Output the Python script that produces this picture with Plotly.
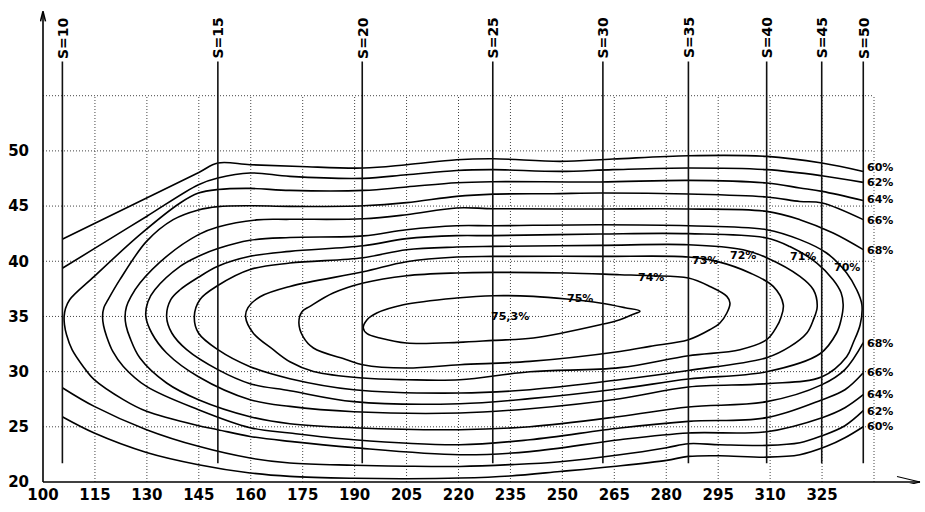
import plotly.graph_objects as go

# ---------------- data ----------------
x_tick_values = [100, 115, 130, 145, 160, 175, 190, 205, 220, 235, 250, 265, 280, 295, 310, 325]
y_tick_values = [20, 25, 30, 35, 40, 45, 50]

opening_labels = ["S=10", "S=15", "S=20", "S=25", "S=30", "S=35", "S=40", "S=45", "S=50"]
opening_q = [105.6, 150.5, 192.2, 229.9, 261.7, 286.4, 309.0, 324.9, 336.9]
opening_n_range = [21.7, 58.1]

eta60_top_q = [105.7, 128.0, 145.0, 150.5, 159.8, 174.2, 192.5, 205.0, 219.5, 230.1, 249.3, 264.6, 286.4, 309.0, 324.9, 336.9]
eta60_top_n = [42.02, 45.44, 48.05, 48.90, 48.75, 48.59, 48.45, 48.75, 49.20, 49.29, 49.05, 49.26, 49.56, 49.50, 48.90, 48.14]

eta62_top_q = [105.7, 114.8, 129.9, 144.9, 150.5, 159.8, 171.3, 192.5, 205.0, 219.5, 230.1, 249.3, 264.6, 286.4, 309.0, 324.9, 336.9]
eta62_top_n = [39.39, 41.14, 44.06, 46.94, 47.54, 48.00, 47.69, 47.51, 47.84, 48.23, 48.30, 48.14, 48.30, 48.45, 48.30, 47.75, 47.15]

eta60_bot_q = [105.7, 114.8, 129.9, 144.9, 159.8, 171.3, 189.8, 205.0, 220.4, 234.9, 249.3, 264.7, 280.1, 286.4, 295.5, 309.0, 318.6, 326.3, 331.6, 336.9]
eta60_bot_n = [25.89, 24.44, 22.68, 21.57, 20.82, 20.51, 20.34, 20.30, 20.36, 20.55, 20.95, 21.41, 21.96, 22.32, 22.38, 22.25, 22.47, 23.23, 24.01, 25.01]

eta62_bot_q = [105.7, 114.8, 129.9, 144.9, 159.8, 171.3, 189.8, 205.0, 220.4, 234.9, 249.3, 266.6, 280.1, 286.4, 295.5, 309.0, 318.6, 325.0, 331.6, 336.9]
eta62_bot_n = [28.52, 26.85, 24.74, 23.23, 22.17, 21.72, 21.52, 21.43, 21.41, 21.57, 21.84, 22.47, 23.11, 23.47, 23.38, 23.32, 23.56, 24.19, 25.10, 26.46]

eta64_q = [336.9, 325.0, 318.6, 309.0, 286.4, 260.9, 230.1, 219.5, 205.0, 192.5, 171.3, 159.8, 150.5, 144.9, 139.6, 128.0, 114.8, 107.7, 106.5, 106.1, 106.2, 106.8, 108.4, 111.6, 114.8, 123.2, 129.9, 144.9, 150.5, 159.8, 171.3, 189.8, 220.4, 240.6, 266.6, 286.4, 309.0, 325.0, 331.6, 336.9]
eta64_n = [45.51, 46.33, 46.64, 47.09, 47.33, 47.18, 47.21, 47.12, 46.73, 46.42, 46.42, 46.60, 46.50, 46.18, 45.28, 42.41, 38.63, 36.52, 35.71, 34.98, 34.26, 33.34, 31.99, 30.47, 29.27, 27.46, 26.40, 25.10, 24.74, 24.13, 23.68, 23.11, 22.47, 22.75, 23.83, 24.44, 24.56, 25.83, 26.73, 27.91]

eta66_q = [336.9, 325.0, 318.6, 309.0, 286.4, 260.9, 247.3, 230.1, 219.5, 205.0, 192.5, 171.3, 159.8, 150.5, 144.9, 137.6, 129.9, 122.2, 118.8, 117.6, 117.2, 117.5, 118.4, 120.2, 123.2, 129.9, 144.9, 159.8, 171.3, 189.8, 220.4, 240.6, 266.6, 286.4, 309.0, 325.0, 331.6, 336.9]
eta66_n = [43.77, 45.28, 45.42, 45.82, 46.09, 46.18, 46.12, 46.08, 45.88, 45.31, 45.03, 44.97, 45.03, 44.95, 44.65, 43.77, 41.80, 38.33, 36.52, 35.80, 34.98, 34.16, 33.17, 31.81, 30.47, 28.66, 26.55, 24.92, 24.44, 23.83, 23.38, 23.83, 24.89, 25.49, 25.83, 27.46, 28.36, 29.90]

eta68_q = [336.9, 328.2, 318.6, 309.0, 286.4, 260.9, 230.1, 219.5, 205.0, 192.5, 171.3, 161.7, 150.5, 144.9, 135.7, 128.0, 125.4, 124.1, 123.7, 124.0, 125.1, 128.0, 135.7, 144.9, 159.8, 171.3, 189.8, 220.4, 240.6, 266.6, 286.4, 309.0, 325.0, 331.6, 336.9]
eta68_n = [41.05, 42.56, 43.77, 44.52, 44.74, 44.74, 44.76, 44.83, 44.22, 43.85, 43.80, 43.75, 43.10, 42.41, 40.44, 38.03, 36.79, 35.88, 34.98, 34.16, 33.08, 31.23, 28.97, 27.46, 25.92, 25.28, 24.92, 24.74, 25.01, 25.94, 26.80, 27.28, 28.82, 30.18, 32.62]

eta70_q = [230.1, 260.9, 286.4, 309.0, 318.6, 326.3, 332.1, 335.0, 336.5, 336.0, 334.0, 332.1, 325.0, 309.0, 286.4, 266.6, 240.6, 220.4, 189.8, 171.3, 159.8, 144.9, 135.7, 131.4, 129.7, 130.3, 132.3, 139.6, 144.9, 150.5, 159.8, 171.3, 192.5, 205.0, 219.5, 230.1]
eta70_n = [43.22, 43.31, 43.22, 42.86, 41.96, 40.75, 38.94, 37.42, 36.06, 34.25, 32.62, 31.35, 29.54, 28.91, 28.61, 27.55, 26.64, 26.25, 26.37, 26.85, 27.46, 29.54, 31.69, 33.50, 35.00, 36.34, 37.42, 39.53, 40.45, 41.15, 41.90, 42.15, 42.30, 42.86, 43.22, 43.22]

eta71_q = [230.1, 260.9, 286.4, 309.0, 315.7, 323.5, 328.2, 330.5, 331.1, 330.5, 329.2, 324.4, 309.0, 286.4, 266.6, 240.6, 220.4, 189.8, 171.3, 159.8, 150.5, 141.5, 137.2, 135.7, 136.9, 139.6, 144.9, 150.5, 159.8, 171.3, 192.5, 205.0, 219.5, 230.1]
eta71_n = [42.32, 42.47, 42.50, 42.11, 41.33, 39.84, 38.33, 37.15, 36.06, 34.71, 33.50, 31.62, 29.99, 29.33, 28.45, 27.55, 27.09, 27.28, 28.27, 28.91, 30.18, 31.99, 33.50, 35.00, 36.52, 37.42, 38.55, 39.55, 40.45, 40.90, 41.40, 42.05, 42.32, 42.32]

eta72_q = [230.1, 260.9, 286.4, 302.2, 309.0, 318.6, 322.5, 323.6, 322.5, 320.6, 315.7, 309.0, 286.4, 266.6, 240.6, 220.4, 189.8, 171.3, 159.8, 150.5, 144.9, 143.7, 145.3, 150.5, 159.8, 171.3, 192.5, 205.0, 219.5, 230.1]
eta72_n = [41.35, 41.44, 41.50, 41.05, 40.32, 38.63, 37.42, 35.91, 34.71, 33.50, 32.26, 31.26, 30.11, 29.27, 28.36, 28.06, 28.36, 29.36, 30.45, 31.99, 33.50, 35.00, 36.52, 37.80, 39.25, 39.84, 40.32, 41.05, 41.29, 41.35]

eta73_q = [230.1, 260.9, 286.4, 294.6, 304.2, 310.9, 313.8, 313.1, 311.9, 309.0, 301.3, 286.4, 266.6, 240.6, 220.4, 205.0, 192.4, 178.1, 171.3, 166.5, 160.7, 158.5, 159.2, 162.7, 171.3, 192.5, 205.0, 219.5, 230.1]
eta73_n = [40.44, 40.44, 40.39, 39.99, 38.94, 37.72, 36.06, 34.89, 34.07, 32.89, 31.99, 31.44, 30.36, 29.99, 29.27, 29.27, 29.42, 30.02, 30.90, 31.99, 33.50, 34.98, 35.80, 36.79, 37.72, 39.05, 39.96, 40.39, 40.44]

eta74_q = [230.1, 251.2, 266.6, 275.3, 286.4, 292.6, 297.5, 298.4, 297.5, 295.5, 292.6, 286.4, 275.3, 266.6, 240.6, 220.4, 205.0, 192.3, 187.7, 178.1, 175.1, 173.9, 174.8, 177.1, 183.8, 192.5, 205.0, 219.5, 230.1]
eta74_n = [38.99, 38.94, 38.78, 38.69, 38.48, 37.72, 36.82, 36.22, 35.31, 34.41, 33.80, 32.89, 32.29, 31.83, 30.93, 30.63, 30.33, 30.63, 31.08, 32.14, 33.17, 34.43, 35.43, 35.91, 37.12, 38.03, 38.69, 38.94, 38.99]

eta75_q = [230.1, 241.6, 251.2, 260.9, 268.1, 272.4, 270.1, 266.6, 260.9, 241.6, 230.1, 219.9, 205.0, 197.3, 193.6, 192.5, 193.6, 196.4, 204.1, 219.5, 230.1]
eta75_n = [36.88, 36.82, 36.58, 36.22, 35.79, 35.48, 35.16, 34.71, 34.25, 33.05, 32.83, 32.65, 32.59, 33.05, 33.44, 33.95, 34.71, 35.31, 36.06, 36.67, 36.88]

label_text = ["60%", "62%", "64%", "66%", "68%", "70%", "71%", "72%", "73%", "74%", "75%", "75,3%",
              "68%", "66%", "64%", "62%", "60%"]
label_q = [341.7, 341.7, 341.7, 341.7, 341.7, 332.1, 319.6, 302.3, 291.3, 275.6, 255.1, 234.9,
           341.7, 341.7, 341.7, 341.7, 341.7]
label_n = [48.52, 47.16, 45.60, 43.69, 40.97, 39.42, 40.44, 40.50, 40.10, 38.57, 36.67, 35.02,
           32.59, 29.88, 27.91, 26.40, 25.04]

# ---------------- figure ----------------
PX_X = 3.4625   # pixels per unit of Q'1
PX_Y = 11.037   # pixels per unit of n'1
X0, Y0 = 100, 20
X_TIP = X0 + 877 / PX_X
Y_TIP = Y0 + 470.6 / PX_Y

FONT = "DejaVu Sans"
fig = go.Figure()

curves = [
    (eta60_top_q, eta60_top_n), (eta62_top_q, eta62_top_n),
    (eta60_bot_q, eta60_bot_n), (eta62_bot_q, eta62_bot_n),
    (eta64_q, eta64_n), (eta66_q, eta66_n), (eta68_q, eta68_n),
    (eta70_q, eta70_n), (eta71_q, eta71_n), (eta72_q, eta72_n),
    (eta73_q, eta73_n), (eta74_q, eta74_n), (eta75_q, eta75_n),
]
for q, n in curves:
    fig.add_trace(go.Scatter(x=q, y=n, mode="lines",
                             line=dict(color="black", width=1.6, shape="spline", smoothing=1.0),
                             hoverinfo="skip"))

for s_q in opening_q:
    fig.add_trace(go.Scatter(x=[s_q, s_q], y=opening_n_range, mode="lines",
                             line=dict(color="#111", width=1.6), hoverinfo="skip"))

shapes = []
grid = dict(color="#444", width=1, dash="1px,2px")
for gx in list(range(115, 341, 15)):
    shapes.append(dict(type="line", xref="x", yref="y", x0=gx, x1=gx, y0=20, y1=55, line=grid, layer="below"))
for gy in range(25, 56, 5):
    shapes.append(dict(type="line", xref="x", yref="y", x0=100, x1=340, y0=gy, y1=gy, line=grid, layer="below"))

axis_line = dict(color="black", width=1.6)
shapes += [
    dict(type="line", xref="x", yref="y", x0=X0, x1=X0, y0=Y0, y1=Y_TIP, line=axis_line),
    dict(type="line", xref="x", yref="y", x0=X0 - 2.5 / PX_X, x1=X0, y0=Y_TIP - 10 / PX_Y, y1=Y_TIP, line=axis_line),
    dict(type="line", xref="x", yref="y", x0=X0 + 2.5 / PX_X, x1=X0, y0=Y_TIP - 10 / PX_Y, y1=Y_TIP, line=axis_line),
    dict(type="line", xref="x", yref="y", x0=X0, x1=X_TIP, y0=Y0, y1=Y0, line=axis_line),
    dict(type="line", xref="x", yref="y", x0=X_TIP - 23 / PX_X, x1=X_TIP, y0=Y0 + 5.5 / PX_Y, y1=Y0, line=dict(color="black", width=1.2)),
    dict(type="line", xref="x", yref="y", x0=X_TIP - 23 / PX_X, x1=X_TIP, y0=Y0 - 5.5 / PX_Y, y1=Y0, line=dict(color="black", width=1.2)),
]

annotations = []
for txt, s_q in zip(opening_labels, opening_q):
    annotations.append(dict(x=s_q, y=60.26, xref="x", yref="y", text="<b>%s</b>" % txt, textangle=-90,
                            showarrow=False, font=dict(family=FONT, size=14, color="black")))
for txt, q, n in zip(label_text, label_q, label_n):
    annotations.append(dict(x=q, y=n, xref="x", yref="y", text="<b>%s</b>" % txt, showarrow=False,
                            font=dict(family=FONT, size=11, color="black")))
annotations.append(dict(x=94.1, y=60.62, xref="x", yref="y", text="<b>n'1(v/p)</b>", textangle=-90,
                        showarrow=False, font=dict(family=FONT, size=13, color="black")))
annotations.append(dict(x=344.9, y=18.85, xref="x", yref="y", text="<b>Q'1(l/s)</b>",
                        showarrow=False, font=dict(family=FONT, size=12, color="black")))

fig.update_layout(
    width=925, height=512,
    margin=dict(l=40, r=2, t=8, b=28, autoexpand=False),
    paper_bgcolor="white", plot_bgcolor="white",
    showlegend=False,
    shapes=shapes, annotations=annotations,
    xaxis=dict(range=[X0 - 3 / PX_X, X0 + 880 / PX_X], tickvals=x_tick_values,
               ticktext=["<b>%d</b>" % v for v in x_tick_values], ticks="",
               tickfont=dict(family=FONT, size=15, color="black"),
               showgrid=False, zeroline=False, showline=False, fixedrange=True),
    yaxis=dict(range=[Y0 - 2 / PX_Y, Y0 + 474 / PX_Y], tickvals=y_tick_values,
               ticktext=["<b>%d</b>" % v for v in y_tick_values], ticks="outside", ticklen=7,
               tickcolor="rgba(0,0,0,0)",
               tickfont=dict(family=FONT, size=15, color="black"),
               showgrid=False, zeroline=False, showline=False, fixedrange=True),
)

fig.write_html("out.html", config={"displayModeBar": False},
               post_script="document.body.style.margin='0px';document.body.style.overflow='hidden';")
